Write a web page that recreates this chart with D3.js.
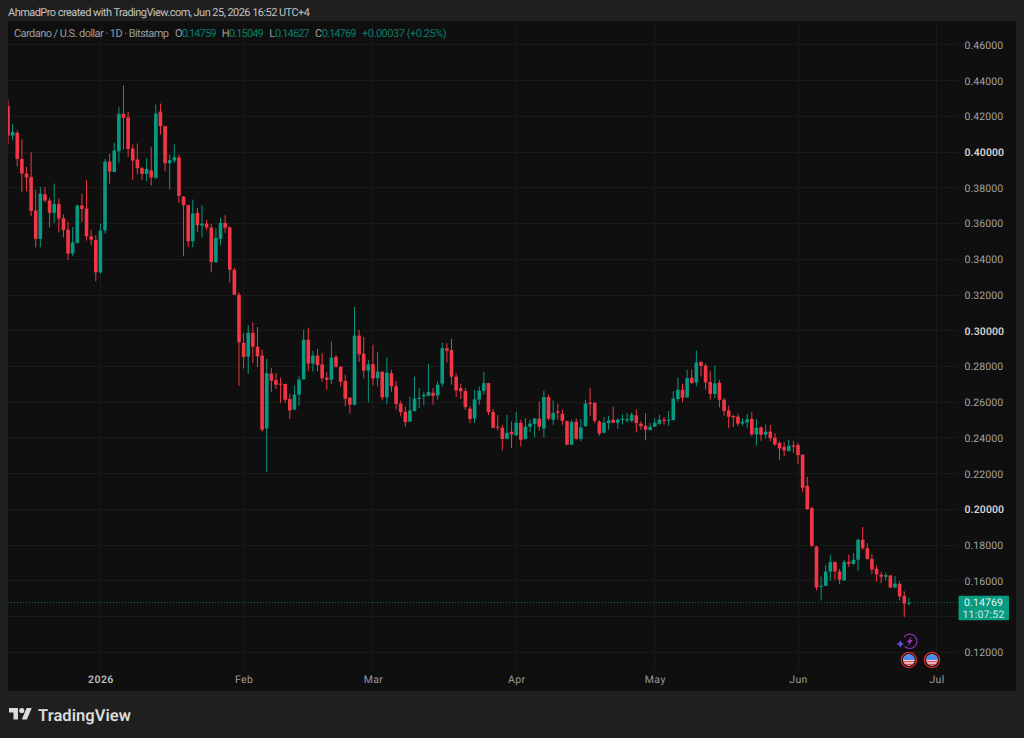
<!DOCTYPE html>
<html>
<head>
<meta charset="utf-8">
<style>
  html, body { margin: 0; padding: 0; background: #1f1f1f; }
  svg { display: block; }
  text { font-family: Roboto, "Noto Sans", sans-serif; text-rendering: geometricPrecision; }
</style>
<script src="https://cdn.jsdelivr.net/npm/d3@7/dist/d3.min.js"></script>
</head>
<body>
<svg id="chart" width="1024" height="738"></svg>
<script>
// Daily ADA/USD session prices, 12 Dec 2025 onward
const sessionStart = "2025-12-12";
const openPrices = [
  .4257,.4093,.4108,.3962,.3880,.3861,.3673,.3514,.3764,.3729,
  .3660,.3710,.3630,.3566,.3432,.3492,.3701,.3684,.3529,.3508,
  .3327,.3561,.3947,.3888,.4005,.4214,.4194,.4020,.3959,.3910,
  .3878,.3897,.3856,.4227,.4145,.3938,.3953,.3970,.3751,.3703,
  .3501,.3660,.3589,.3600,.3578,.3383,.3514,.3604,.3578,.3342,
  .3202,.2933,.2855,.2989,.2911,.2861,.2453,.2760,.2724,.2704,
  .2702,.2618,.2558,.2642,.2728,.2950,.2816,.2861,.2812,.2737,
  .2726,.2853,.2799,.2719,.2625,.2586,.2973,.2872,.2777,.2814,
  .2734,.2771,.2627,.2762,.2689,.2592,.2547,.2491,.2551,.2618,
  .2633,.2636,.2653,.2638,.2704,.2902,.2892,.2743,.2679,.2663,
  .2564,.2509,.2615,.2664,.2707,.2545,.2463,.2457,.2395,.2435,
  .2414,.2485,.2395,.2463,.2478,.2508,.2453,.2629,.2502,.2549,
  .2536,.2494,.2362,.2491,.2395,.2466,.2597,.2597,.2491,.2429,
  .2483,.2502,.2485,.2502,.2498,.2496,.2526,.2480,.2468,.2444,
  .2463,.2480,.2502,.2498,.2500,.2618,.2670,.2627,.2737,.2711,
  .2825,.2805,.2713,.2646,.2709,.2614,.2553,.2523,.2519,.2480,
  .2487,.2506,.2420,.2459,.2418,.2435,.2401,.2373,.2349,.2327,
  .2358,.2360,.2306,.2132,.2007,.1792,.1567,.1572,.1652,.1705,
  .1652,.1602,.1707,.1694,.1718,.1830,.1783,.1723,.1668,.1634,
  .1623,.1630,.1563,.1583,.1515,.14759
];
const highPrices = [
  .4295,.4158,.4121,.4071,.3917,.3999,.3790,.3805,.3805,.3744,
  .3824,.3740,.3650,.3609,.3581,.3706,.3766,.3843,.3566,.3535,
  .3600,.3962,.3990,.4052,.4252,.4373,.4226,.4043,.4048,.3917,
  .3966,.4030,.4267,.4272,.4147,.3987,.4043,.3987,.3754,.3705,
  .3734,.3688,.3703,.3622,.3598,.3576,.3632,.3647,.3585,.3352,
  .3215,.2987,.3032,.3047,.3021,.2894,.2842,.2791,.2763,.2737,
  .2704,.2646,.2692,.2745,.3006,.3017,.2888,.2898,.2874,.2769,
  .2939,.2864,.2801,.2754,.2627,.3133,.3006,.2965,.2838,.2922,
  .2883,.2773,.2849,.2782,.2719,.2608,.2575,.2629,.2743,.2678,
  .2659,.2816,.2679,.2720,.2933,.2931,.2954,.2763,.2704,.2679,
  .2577,.2670,.2689,.2769,.2709,.2562,.2528,.2474,.2528,.2491,
  .2547,.2502,.2511,.2502,.2511,.2603,.2664,.2642,.2610,.2592,
  .2558,.2496,.2502,.2509,.2506,.2614,.2681,.2599,.2500,.2517,
  .2524,.2577,.2511,.2532,.2539,.2543,.2560,.2493,.2539,.2483,
  .2511,.2530,.2517,.2551,.2661,.2737,.2704,.2782,.2782,.2889,
  .2829,.2816,.2776,.2805,.2726,.2623,.2580,.2530,.2536,.2511,
  .2536,.2545,.2506,.2465,.2474,.2472,.2427,.2381,.2377,.2390,
  .2384,.2371,.2308,.2183,.2015,.1796,.1624,.1690,.1746,.1707,
  .1667,.1718,.1746,.1755,.1836,.1901,.1811,.1750,.1688,.1649,
  .1645,.1634,.1628,.1598,.1541,.15049
];
const lowPrices = [
  .4043,.4065,.3921,.3775,.3781,.3641,.3467,.3467,.3719,.3579,
  .3604,.3551,.3523,.3396,.3417,.3488,.3609,.3505,.3479,.3277,
  .3318,.3544,.3824,.3888,.3940,.4015,.3973,.3846,.3875,.3846,
  .3837,.3813,.3850,.4099,.3893,.3790,.3940,.3716,.3417,.3469,
  .3467,.3553,.3523,.3561,.3327,.3383,.3479,.3548,.3271,.3202,
  .2692,.2790,.2758,.2818,.2797,.2435,.2209,.2659,.2674,.2595,
  .2599,.2506,.2558,.2580,.2726,.2773,.2771,.2773,.2715,.2670,
  .2702,.2793,.2689,.2577,.2536,.2582,.2825,.2734,.2599,.2694,
  .2689,.2610,.2590,.2659,.2558,.2521,.2463,.2491,.2547,.2567,
  .2582,.2633,.2586,.2614,.2689,.2823,.2698,.2629,.2618,.2558,
  .2483,.2483,.2586,.2642,.2528,.2455,.2442,.2330,.2395,.2343,
  .2412,.2353,.2390,.2433,.2403,.2442,.2403,.2498,.2474,.2502,
  .2474,.2360,.2360,.2390,.2382,.2461,.2521,.2483,.2412,.2425,
  .2446,.2483,.2450,.2476,.2487,.2487,.2431,.2446,.2386,.2442,
  .2461,.2474,.2474,.2468,.2498,.2605,.2601,.2625,.2702,.2689,
  .2745,.2670,.2614,.2623,.2571,.2524,.2455,.2461,.2468,.2468,
  .2457,.2412,.2356,.2384,.2395,.2380,.2356,.2278,.2297,.2323,
  .2315,.2255,.2095,.1998,.1789,.1546,.1490,.1571,.1600,.1606,
  .1583,.1602,.1677,.1690,.1656,.1774,.1718,.1639,.1596,.1587,
  .1602,.1561,.1559,.1490,.1397,.14627
];
const closePrices = [
  .4093,.4113,.3962,.3880,.3858,.3671,.3514,.3768,.3729,.3660,
  .3710,.3628,.3565,.3432,.3495,.3701,.3682,.3529,.3510,.3327,
  .3561,.3947,.3891,.4009,.4214,.4192,.4018,.3953,.3910,.3878,
  .3906,.3858,.4216,.4145,.3938,.3955,.3972,.3755,.3703,.3501,
  .3656,.3591,.3600,.3578,.3385,.3520,.3604,.3576,.3342,.3202,
  .2935,.2853,.2989,.2911,.2857,.2446,.2762,.2720,.2698,.2698,
  .2614,.2554,.2642,.2726,.2950,.2816,.2861,.2808,.2734,.2726,
  .2849,.2799,.2715,.2620,.2586,.2973,.2868,.2777,.2812,.2734,
  .2771,.2627,.2765,.2689,.2590,.2545,.2489,.2554,.2620,.2625,
  .2642,.2657,.2636,.2698,.2903,.2888,.2743,.2666,.2661,.2573,
  .2506,.2616,.2664,.2707,.2545,.2457,.2457,.2394,.2429,.2420,
  .2485,.2390,.2463,.2480,.2508,.2463,.2629,.2508,.2541,.2541,
  .2496,.2362,.2489,.2395,.2459,.2593,.2590,.2496,.2425,.2485,
  .2498,.2485,.2502,.2506,.2506,.2530,.2483,.2466,.2446,.2463,
  .2485,.2502,.2495,.2502,.2620,.2670,.2625,.2735,.2707,.2823,
  .2803,.2711,.2646,.2705,.2614,.2551,.2519,.2515,.2480,.2491,
  .2504,.2420,.2457,.2418,.2435,.2398,.2364,.2341,.2330,.2356,
  .2351,.2304,.2121,.2002,.1796,.1563,.1572,.1652,.1705,.1652,
  .1606,.1705,.1696,.1718,.1830,.1783,.1723,.1664,.1636,.1623,
  .1632,.1563,.1585,.1513,.14732,.14769
];
const priceTicks = [.46,.44,.42,.40,.38,.36,.34,.32,.30,.28,.26,.24,.22,.20,.18,.16,.14,.12];
const labelledPriceTicks = priceTicks.filter(t => t !== .14);
const emphasisedTicks = [.40,.30,.20];
const monthTicks = ["2026-01-01","2026-02-01","2026-03-01","2026-04-01","2026-05-01","2026-06-01","2026-07-01"];
const monthLabels = ["2026","Feb","Mar","Apr","May","Jun","Jul"];
const lastPrice = .14769;
const countdown = "11:07:52";
const economicEventDays = ["2026-06-25","2026-06-30"];
const earningsEventDay = "2026-06-25";
const headerLine = "AhmadPro created with TradingView.com, Jun 25, 2026 16:52 UTC+4";
const titleLine = "Cardano / U.S. dollar \u00b7 1D \u00b7 Bitstamp";
const ohlcLegend = [["O","0.14759"],["H","0.15049"],["L","0.14627"],["C","0.14769"]];
const changeLegend = "+0.00037 (+0.25%)";

const UP = "#089981", DOWN = "#f23645";
const pane = {left: 8, right: 957.5, top: 21, bottom: 671, frameRight: 1016, frameBottom: 691};

const parseDay = d3.utcParse("%Y-%m-%d");
const days = d3.range(openPrices.length).map(i => d3.utcDay.offset(parseDay(sessionStart), i));
const candles = days.map((date, i) => ({
  date, open: openPrices[i], high: highPrices[i], low: lowPrices[i], close: closePrices[i]
}));

const x = d3.scaleUtc()
  .domain([parseDay(sessionStart), parseDay("2026-07-01")])
  .range([8, 936.6]);
const y = d3.scaleLinear().domain([.12, .42]).range([652.3, 116.4]);

const svg = d3.select("#chart");
const crisp = v => Math.floor(v) + .5;

svg.append("rect").attr("width", 1024).attr("height", 738).attr("fill", "#1f1f1f");
svg.append("rect")
  .attr("x", pane.left).attr("y", pane.top)
  .attr("width", pane.frameRight - pane.left).attr("height", pane.frameBottom - pane.top)
  .attr("fill", "#0f0f0f");

svg.append("defs").append("clipPath").attr("id", "pane-clip")
  .append("rect")
  .attr("x", pane.left).attr("y", pane.top)
  .attr("width", pane.right - pane.left).attr("height", pane.bottom - pane.top);

// Grid
const grid = svg.append("g").attr("stroke", "#1a1a1a").attr("stroke-width", 1);
grid.selectAll("line.h").data(priceTicks).join("line").attr("class", "h")
  .attr("x1", pane.left).attr("x2", pane.right)
  .attr("y1", d => crisp(y(d))).attr("y2", d => crisp(y(d)));
grid.selectAll("line.v").data(monthTicks).join("line").attr("class", "v")
  .attr("y1", pane.top).attr("y2", pane.bottom)
  .attr("x1", d => crisp(x(parseDay(d)))).attr("x2", d => crisp(x(parseDay(d))));

// Price axis
const priceAxis = d3.axisRight(y)
  .tickValues(labelledPriceTicks)
  .tickSize(0).tickPadding(0)
  .tickFormat(d3.format(".5f"));
const priceG = svg.append("g").attr("transform", "translate(964.5,0)").call(priceAxis);
priceG.select(".domain").remove();
priceG.selectAll("text")
  .attr("font-size", 10.5).attr("letter-spacing", ".1")
  .attr("font-family", "Roboto, sans-serif")
  .attr("fill", d => emphasisedTicks.includes(d) ? "#d4d4d4" : "#a3a3a3")
  .attr("font-weight", d => emphasisedTicks.includes(d) ? 600 : 400);

// Time axis
const timeAxis = d3.axisBottom(x)
  .tickValues(monthTicks.map(parseDay))
  .tickSize(0).tickPadding(0)
  .tickFormat((d, i) => monthLabels[i]);
const timeG = svg.append("g").attr("transform", "translate(0,676)").call(timeAxis);
timeG.select(".domain").remove();
timeG.selectAll("text")
  .attr("font-size", 10.5).attr("letter-spacing", ".4")
  .attr("font-family", "Roboto, sans-serif")
  .attr("fill", (d, i) => i === 0 ? "#bdbdbd" : "#9a9a9a")
  .attr("font-weight", (d, i) => i === 0 ? 600 : 400);

// Candles
const plot = svg.append("g").attr("clip-path", "url(#pane-clip)");
const colour = d => d.close >= d.open ? UP : DOWN;
const bodyWidth = 3.6;

// Last-price marker line
plot.append("line")
  .attr("x1", pane.left).attr("x2", pane.right)
  .attr("y1", crisp(y(lastPrice))).attr("y2", crisp(y(lastPrice)))
  .attr("stroke", UP).attr("stroke-width", 1).attr("stroke-opacity", .65)
  .attr("stroke-dasharray", "1 2");

plot.selectAll("line.wick").data(candles).join("line").attr("class", "wick")
  .attr("x1", d => x(d.date)).attr("x2", d => x(d.date))
  .attr("y1", d => y(d.high)).attr("y2", d => y(d.low))
  .attr("stroke", colour).attr("stroke-width", 1);

plot.selectAll("rect.body").data(candles).join("rect").attr("class", "body")
  .attr("x", d => x(d.date) - bodyWidth / 2)
  .attr("width", bodyWidth)
  .attr("y", d => y(Math.max(d.open, d.close)))
  .attr("height", d => Math.max(1, Math.abs(y(d.open) - y(d.close))))
  .attr("fill", colour);

// Last-price tag
const tag = svg.append("g");
tag.append("rect").attr("x", 958.5).attr("y", y(lastPrice) - 7)
  .attr("width", 50.5).attr("height", 24.5).attr("rx", 1).attr("fill", UP);
tag.append("text").attr("x", 983.5).attr("y", y(lastPrice) + 3.4)
  .attr("text-anchor", "middle").attr("font-size", 10.5).attr("letter-spacing", ".1")
  .attr("fill", "#e6f5f2").text(d3.format(".5f")(lastPrice));
tag.append("text").attr("x", 983.5).attr("y", y(lastPrice) + 15)
  .attr("text-anchor", "middle").attr("font-size", 10.5).attr("letter-spacing", ".2")
  .attr("fill", "#cbeae4").text(countdown);

// Event badges under the candles
const flagDefs = svg.select("defs");
flagDefs.append("clipPath").attr("id", "flag-clip").append("circle").attr("r", 5.8);
const badge = svg.selectAll("g.flag").data(economicEventDays).join("g").attr("class", "flag")
  .attr("transform", d => `translate(${x(parseDay(d))},660)`);
badge.append("circle").attr("r", 7.6).attr("fill", "#121212")
  .attr("stroke", "#e0252f").attr("stroke-width", 1.3);
const flag = badge.append("g").attr("clip-path", "url(#flag-clip)");
flag.append("rect").attr("x", -6).attr("y", -6).attr("width", 12).attr("height", 12).attr("fill", "#f0f0f0");
flag.append("rect").attr("x", -6).attr("y", -6).attr("width", 12).attr("height", 6).attr("fill", "#4c8bea");
flag.append("rect").attr("x", -6).attr("y", .9).attr("width", 12).attr("height", 1.4).attr("fill", "#e0424f");
flag.append("rect").attr("x", -6).attr("y", 3.6).attr("width", 12).attr("height", 1.4).attr("fill", "#e0424f");

const bolt = svg.append("g")
  .attr("transform", `translate(${x(parseDay(earningsEventDay)) + .8},641.3)`);
bolt.append("path")
  .attr("d", d3.arc().innerRadius(6.6).outerRadius(7.8).startAngle(-.9).endAngle(3.9)())
  .attr("fill", "#8e2fb0");
bolt.append("path")
  .attr("d", "M2.2,-5 L-3,.9 L-.5,.9 L-2,5 L3.2,-1.2 L.6,-1.2 Z")
  .attr("fill", "#a035c4");
svg.append("path")
  .attr("transform", `translate(${x(parseDay(earningsEventDay)) - 8.6},644)`)
  .attr("d", "M0,-4 Q.7,-.7 4,0 Q.7,.7 0,4 Q-.7,.7 -4,0 Q-.7,-.7 0,-4 Z")
  .attr("fill", "#6a4be0");

// Header lines
svg.append("text").attr("x", 8).attr("y", 16)
  .attr("font-size", 11).attr("fill", "#c2c2c2").attr("textLength", 302).text(headerLine);
svg.append("text").attr("x", 14).attr("y", 37)
  .attr("font-size", 11).attr("fill", "#9c9c9c").attr("textLength", 155).text(titleLine);

const legendX = [[175, 181.7], [221.7, 229], [269.3, 275], [315, 321.7]];
ohlcLegend.forEach(([k, v], i) => {
  svg.append("text").attr("x", legendX[i][0]).attr("y", 37)
    .attr("font-size", 11).attr("fill", "#9c9c9c").text(k);
  svg.append("text").attr("x", legendX[i][1]).attr("y", 37)
    .attr("font-size", 11).attr("fill", "#0b7d6b").attr("textLength", 34.7).text(v);
});
svg.append("text").attr("x", 362).attr("y", 37)
  .attr("font-size", 11).attr("fill", "#0b7d6b").attr("textLength", 84.7).text(changeLegend);

// Footer wordmark
const logo = svg.append("g").attr("transform", "translate(9,705.4) scale(.64)").attr("fill", "#dcdcdc");
logo.append("path").attr("d", "M14 22H7V11H0V4h14v18zM28 22h-8l7.5-18h8L28 22z");
logo.append("circle").attr("cx", 20).attr("cy", 8).attr("r", 4);
svg.append("text").attr("x", 38).attr("y", 720.8)
  .attr("font-size", 16.5).attr("font-weight", 600).attr("fill", "#dcdcdc")
  .attr("font-family", "Inter, sans-serif")
  .attr("textLength", 93).text("TradingView");
</script>
</body>
</html>
